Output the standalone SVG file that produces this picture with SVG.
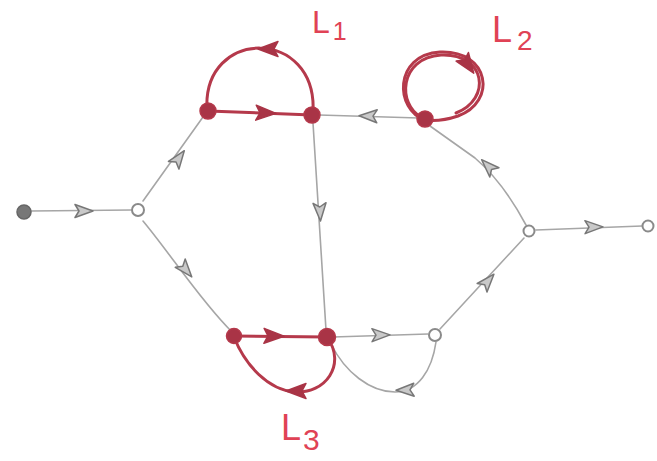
<svg xmlns="http://www.w3.org/2000/svg" xmlns:xlink="http://www.w3.org/1999/xlink" width="657" height="461" viewBox="0 0 657 461">
<style>
.e{fill:none;stroke:#a6a6a6;stroke-width:1.6;stroke-linecap:round}
.r{fill:none;stroke:#b5394b;stroke-width:3;stroke-linecap:round}
.rn{fill:#a93446;stroke:#b5394b;stroke-width:1.5}
.on{fill:#fff;stroke:#8a8a8a;stroke-width:2}
.lbl{font-family:"Liberation Sans",Arial,sans-serif;fill:#e04255}
</style>
<defs>
<g id="ga"><path d="M -9 -6.5 L 9 0 L -9 6.5 L -5 0 Z" fill="#c9c9c9" stroke="#777" stroke-width="1.5" stroke-linejoin="round"/></g>
<g id="ra"><path d="M -10 -7.5 L 10 0 L -10 7.5 L -6 0 Z" fill="#a93446" stroke="#a93446" stroke-width="1.5" stroke-linejoin="round"/></g>
</defs>
<rect width="657" height="461" fill="#fff"/>
<g id="connectors">
<path class="e" d="M 31 211 L 131 210"/>
<path class="e" d="M 143 201 L 203 117"/>
<path class="e" d="M 143 221 C 172 256, 200 300, 231 331"/>
<path class="e" d="M 419 118 L 319 115"/>
<path class="e" d="M 313 123 L 326 330"/>
<path class="e" d="M 333 337 L 428 334"/>
<path class="e" d="M 436 342 C 432 370, 418 392, 395 392 C 370 392, 345 372, 331 344"/>
<path class="e" d="M 430 126 L 475 158 Q 503 182 526 225"/>
<path class="e" d="M 440 329 L 524 238"/>
<path class="e" d="M 536 230 L 642 226"/>
<path class="r" d="M 208 111 L 312 115"/>
<path class="r" d="M 313 113 C 318 27, 202 27, 207 110"/>
<path class="r" d="M 425 120 C 395 110, 393 55, 440 52 C 490 50, 497 102, 458 116 C 443 121, 432 121, 425 120"/>
<path class="r" d="M 421 117 C 398 105, 398 58, 441 55 C 486 53, 492 99, 456 113" stroke-width="1.6"/>
<path class="r" d="M 234 336 L 327 337"/>
<path class="r" d="M 327 337 C 347 365, 325 394, 295 392 C 268 390, 245 365, 234 337"/>
<use xlink:href="#ga" transform="translate(84,211)"/>
<use xlink:href="#ga" transform="translate(179,158) rotate(-54)"/>
<use xlink:href="#ga" transform="translate(186,270) rotate(50)"/>
<use xlink:href="#ga" transform="translate(368,116) rotate(182)"/>
<use xlink:href="#ga" transform="translate(320,212) rotate(87)"/>
<use xlink:href="#ga" transform="translate(381,335) rotate(-1)"/>
<use xlink:href="#ga" transform="translate(405,390) rotate(178)"/>
<use xlink:href="#ga" transform="translate(488,166) rotate(-135)"/>
<use xlink:href="#ga" transform="translate(488,281) rotate(-49)"/>
<use xlink:href="#ga" transform="translate(594,227) rotate(-1)"/>
<use xlink:href="#ra" transform="translate(266,113) rotate(2)"/>
<use xlink:href="#ra" transform="translate(268,49) rotate(180)"/>
<use xlink:href="#ra" transform="translate(468,65) rotate(55)"/>
<use xlink:href="#ra" transform="translate(274,336) rotate(1)"/>
<use xlink:href="#ra" transform="translate(296,391) rotate(180)"/>
</g>
<g id="src"><circle cx="24" cy="212" r="7" fill="#777" stroke="#666" stroke-width="1.5"/></g>
<g id="n1"><circle class="on" cx="138" cy="210" r="6"/></g>
<g id="nA"><circle class="rn" cx="208" cy="111" r="8"/></g>
<g id="nB"><circle class="rn" cx="312" cy="115" r="8"/></g>
<g id="nC"><circle class="rn" cx="425" cy="119" r="8"/></g>
<g id="nD"><circle class="on" cx="529" cy="231" r="5.5"/></g>
<g id="sink"><circle class="on" cx="648" cy="226" r="5.5"/></g>
<g id="nE"><circle class="rn" cx="234" cy="336" r="7.5"/></g>
<g id="nF"><circle class="rn" cx="327" cy="337" r="8.5"/></g>
<g id="nG"><circle class="on" cx="435" cy="335" r="6"/></g>
<g id="labels">
<text class="lbl" x="312" y="33" font-size="32">L<tspan dx="3" dy="7" font-size="25">1</tspan></text>
<text class="lbl" x="492" y="42" font-size="36">L<tspan dx="5" dy="8" font-size="28">2</tspan></text>
<text class="lbl" x="281" y="440" font-size="36">L<tspan dx="2" dy="10" font-size="30">3</tspan></text>
</g>
</svg>
